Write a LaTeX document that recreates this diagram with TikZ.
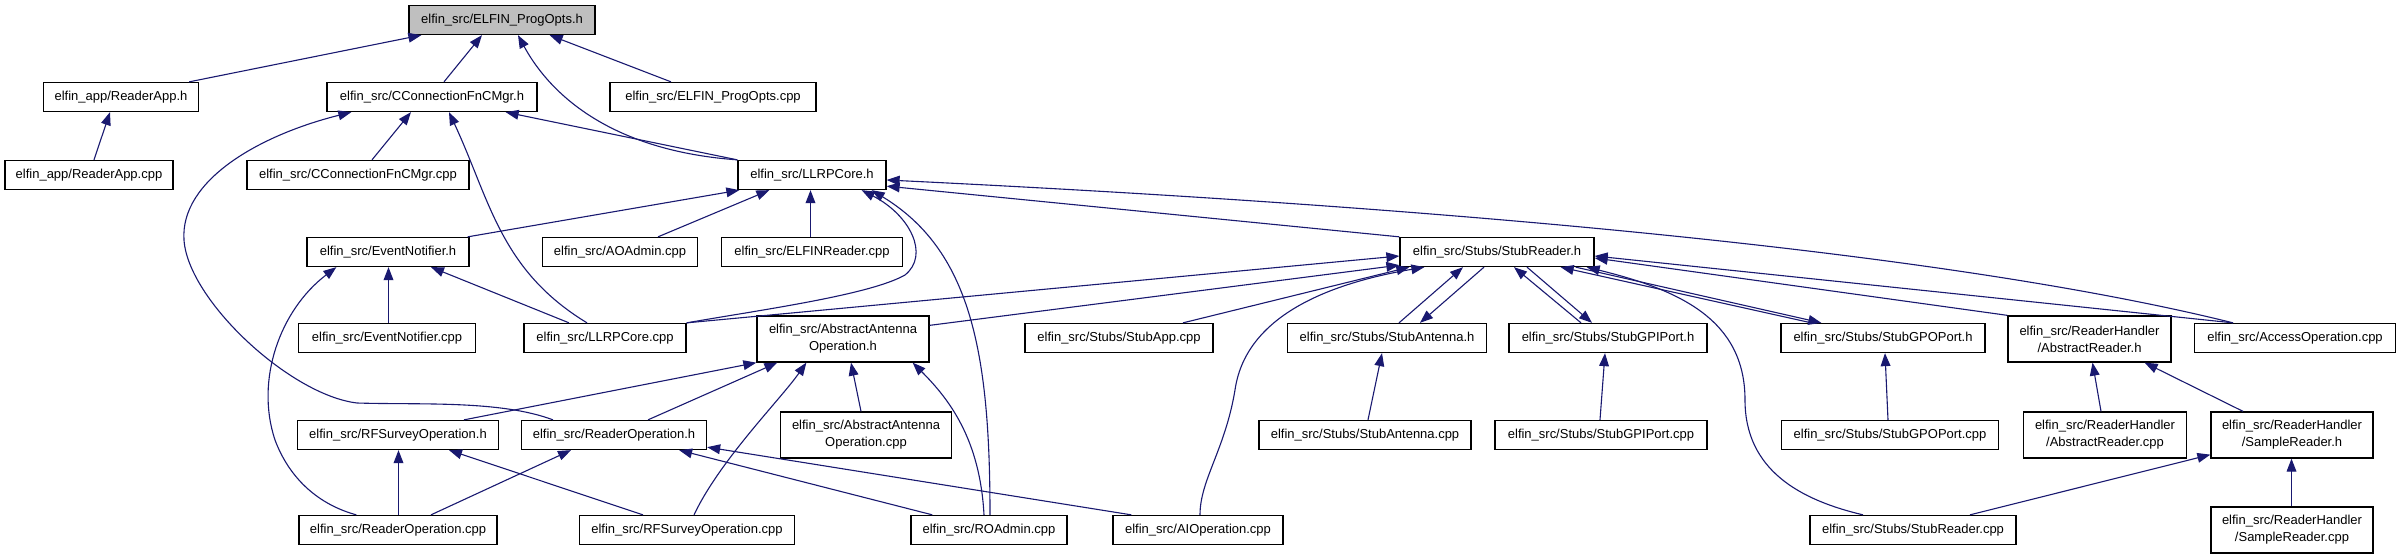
\documentclass[tikz,border=0pt]{standalone}
\usepackage{fontspec}
\setmainfont{Liberation Sans}
\usetikzlibrary{arrows.meta}
\definecolor{edgec}{HTML}{191970}
\definecolor{rootfill}{HTML}{BFBFBF}
\tikzset{
  box/.style={draw=black, line width=1pt, fill=white, inner sep=0pt, align=center,
    font=\fontsize{10}{13}\selectfont, minimum height=29*0.77pt},
  two/.style={minimum height=46*0.77pt},
  bw/.style={minimum width=#1*0.77pt},
  root/.style={fill=rootfill},
  dep/.style={draw=edgec, line width=0.85pt, {Triangle[length=10pt,width=7.5pt]}-},
}
\begin{document}
\begin{tikzpicture}[x=0.77pt,y=-0.77pt]
\useasboundingbox (0,0) rectangle (2400,560);
% nodes
\node[box,root,bw=186] (progh) at (502,20) {elfin\_src/ELFIN\_ProgOpts.h};
\node[box,bw=155] (readerapph) at (121,97) {elfin\_app/ReaderApp.h};
\node[box,bw=210] (cconh) at (432,97) {elfin\_src/CConnectionFnCMgr.h};
\node[box,bw=206] (progcpp) at (713,97) {elfin\_src/ELFIN\_ProgOpts.cpp};
\node[box,bw=168] (readerappcpp) at (89,175) {elfin\_app/ReaderApp.cpp};
\node[box,bw=222] (cconcpp) at (358,175) {elfin\_src/CConnectionFnCMgr.cpp};
\node[box,bw=148] (llrpcoreh) at (812,175) {elfin\_src/LLRPCore.h};
\node[box,bw=162] (eventh) at (388,252) {elfin\_src/EventNotifier.h};
\node[box,bw=155] (aoadmin) at (620,252) {elfin\_src/AOAdmin.cpp};
\node[box,bw=181] (elfinreader) at (812,252) {elfin\_src/ELFINReader.cpp};
\node[box,bw=194] (stubreaderh) at (1497,252) {elfin\_src/Stubs/StubReader.h};
\node[box,bw=177] (eventcpp) at (387,338) {elfin\_src/EventNotifier.cpp};
\node[box,bw=162] (llrpcorecpp) at (605,338) {elfin\_src/LLRPCore.cpp};
\node[box,two,bw=172] (absantennah) at (843,339) {elfin\_src/AbstractAntenna\\Operation.h};
\node[box,bw=188] (stubappcpp) at (1119,338) {elfin\_src/Stubs/StubApp.cpp};
\node[box,bw=199] (stubantennah) at (1387,338) {elfin\_src/Stubs/StubAntenna.h};
\node[box,bw=198] (stubgpih) at (1608,338) {elfin\_src/Stubs/StubGPIPort.h};
\node[box,bw=204] (stubgpoh) at (1883,338) {elfin\_src/Stubs/StubGPOPort.h};
\node[box,two,bw=163] (absreaderh) at (2089.5,339) {elfin\_src/ReaderHandler\\/AbstractReader.h};
\node[box,bw=201] (accesscpp) at (2295,338) {elfin\_src/AccessOperation.cpp};
\node[box,bw=201] (rfsurveyh) at (398,435) {elfin\_src/RFSurveyOperation.h};
\node[box,bw=185] (readeroph) at (614,435) {elfin\_src/ReaderOperation.h};
\node[box,two,bw=171] (absantennacpp) at (866,435) {elfin\_src/AbstractAntenna\\Operation.cpp};
\node[box,bw=212] (stubantennacpp) at (1365,435) {elfin\_src/Stubs/StubAntenna.cpp};
\node[box,bw=212] (stubgpicpp) at (1601,435) {elfin\_src/Stubs/StubGPIPort.cpp};
\node[box,bw=217] (stubgpocpp) at (1890,435) {elfin\_src/Stubs/StubGPOPort.cpp};
\node[box,two,bw=163] (absreadercpp) at (2105,435) {elfin\_src/ReaderHandler\\/AbstractReader.cpp};
\node[box,two,bw=162] (samplereaderh) at (2292,435) {elfin\_src/ReaderHandler\\/SampleReader.h};
\node[box,bw=198] (readeropcpp) at (398,530) {elfin\_src/ReaderOperation.cpp};
\node[box,bw=215] (rfsurveycpp) at (687,530) {elfin\_src/RFSurveyOperation.cpp};
\node[box,bw=156] (roadmin) at (989,530) {elfin\_src/ROAdmin.cpp};
\node[box,bw=170] (aiop) at (1198,530) {elfin\_src/AIOperation.cpp};
\node[box,bw=206] (stubreadercpp) at (1913,530) {elfin\_src/Stubs/StubReader.cpp};
\node[box,two,bw=162] (samplereadercpp) at (2292,530) {elfin\_src/ReaderHandler\\/SampleReader.cpp};
% edges
\draw[dep] ([shift={(13,0)}]progh.south west) -- ([shift={(-10,0)}]readerapph.north east);
\draw[dep] ([shift={(-20,0)}]progh.south) -- ([shift={(12,0)}]cconh.north);
\draw[dep] ([shift={(16,0)}]progh.south) .. controls (545,85) and (600,150) .. (llrpcoreh.north west);
\draw[dep] ([shift={(-46,0)}]progh.south east) -- ([shift={(-42,0)}]progcpp.north);
\draw[dep] ([shift={(-11,0)}]readerapph.south) -- ([shift={(5,0)}]readerappcpp.north);
\draw[dep] ([shift={(-21,0)}]cconh.south) -- ([shift={(14,0)}]cconcpp.north);
\draw[dep] ([shift={(-32,0)}]cconh.south east) -- (llrpcoreh.north west);
\draw[dep] ([shift={(17,0)}]cconh.south) .. controls (490,200) and (500,270) .. ([shift={(-18,0)}]llrpcorecpp.north);
\draw[dep] ([shift={(25,0)}]cconh.south west) .. controls (260,135) and (180,180) .. (184,240) .. controls (188,300) and (290,395) .. (357,403) .. controls (420,405) and (500,400) .. ([shift={(-61,0)}]readeroph.north);
\draw[dep] ([shift={(2,0)}]llrpcoreh.south west) -- ([shift={(-2,0)}]eventh.north east);
\draw[dep] ([shift={(32,0)}]llrpcoreh.south west) -- ([shift={(38,0)}]aoadmin.north);
\draw[dep] ([shift={(-1.5,0)}]llrpcoreh.south) -- ([shift={(-1.5,0)}]elfinreader.north);
\draw[dep] ([shift={(0,-4)}]llrpcoreh.south east) -- (stubreaderh.north west);
\draw[dep] ([shift={(0,5)}]llrpcoreh.east) .. controls (1300,200) and (1900,240) .. ([shift={(-62,0)}]accesscpp.north);
\draw[dep] ([shift={(-25,0)}]llrpcoreh.south east) .. controls (910,215) and (930,255) .. (905,275) .. controls (870,295) and (760,310) .. (llrpcorecpp.north east);
\draw[dep] ([shift={(-15,0)}]llrpcoreh.south east) .. controls (970,250) and (990,350) .. ([shift={(1,0)}]roadmin.north);
\draw[dep] ([shift={(0,4)}]stubreaderh.west) -- (llrpcorecpp.north east);
\draw[dep] ([shift={(0,-2)}]stubreaderh.south west) -- ([shift={(0,10)}]absantennah.north east);
\draw[dep] ([shift={(10,0)}]stubreaderh.south west) -- ([shift={(64,0)}]stubappcpp.north);
\draw[dep] ([shift={(25,0)}]stubreaderh.south west) .. controls (1320,285) and (1245,320) .. (1235,390) .. controls (1225,450) and (1200,480) .. ([shift={(2,0)}]aiop.north);
\draw[dep] ([shift={(-34,0)}]stubreaderh.south) -- ([shift={(12,0)}]stubantennah.north);
\draw[dep] ([shift={(33,0)}]stubantennah.north) -- ([shift={(-13,0)}]stubreaderh.south);
\draw[dep] ([shift={(17,0)}]stubreaderh.south) -- ([shift={(-27,0)}]stubgpih.north);
\draw[dep] ([shift={(-16,0)}]stubgpih.north) -- ([shift={(30,0)}]stubreaderh.south);
\draw[dep] ([shift={(-34,0)}]stubreaderh.south east) -- ([shift={(31,0)}]stubgpoh.north west);
\draw[dep] ([shift={(41,0)}]stubgpoh.north west) -- ([shift={(-19,0)}]stubreaderh.south east);
\draw[dep] ([shift={(-8,0)}]stubreaderh.south east) .. controls (1680,290) and (1745,320) .. (1745,400) .. controls (1745,470) and (1800,500) .. ([shift={(-50,0)}]stubreadercpp.north);
\draw[dep] ([shift={(0,6)}]stubreaderh.east) -- (absreaderh.north west);
\draw[dep] ([shift={(0,4)}]stubreaderh.east) -- ([shift={(-62,0)}]accesscpp.north);
\draw[dep] ([shift={(3,0)}]absreaderh.south) -- ([shift={(-4,0)}]absreadercpp.north);
\draw[dep] ([shift={(-27,0)}]absreaderh.south east) -- ([shift={(-49,0)}]samplereaderh.north);
\draw[dep] ([shift={(-0.5,0)}]samplereaderh.south) -- ([shift={(-0.5,0)}]samplereadercpp.north);
\draw[dep] ([shift={(0,-4)}]samplereaderh.south west) -- ([shift={(57,0)}]stubreadercpp.north);
\draw[dep] ([shift={(-5,0)}]stubantennah.south) -- ([shift={(3,0)}]stubantennacpp.north);
\draw[dep] ([shift={(-3,0)}]stubgpih.south) -- ([shift={(-1,0)}]stubgpicpp.north);
\draw[dep] ([shift={(2,0)}]stubgpoh.south) -- ([shift={(-2,0)}]stubgpocpp.north);
\draw[dep] ([shift={(0.5,0)}]eventh.south) -- ([shift={(1.5,0)}]eventcpp.north);
\draw[dep] ([shift={(43,0)}]eventh.south) -- ([shift={(-36,0)}]llrpcorecpp.north);
\draw[dep] ([shift={(30,0)}]eventh.south west) .. controls (280,310) and (255,380) .. (275,440) .. controls (290,480) and (320,505) .. ([shift={(58,0)}]readeropcpp.north west);
\draw[dep] ([shift={(0.5,0)}]rfsurveyh.south) -- ([shift={(0.5,0)}]readeropcpp.north);
\draw[dep] ([shift={(-43,0)}]readeroph.south) -- ([shift={(33,0)}]readeropcpp.north);
\draw[dep] ([shift={(51,0)}]rfsurveyh.south) -- ([shift={(-44,0)}]rfsurveycpp.north);
\draw[dep] (absantennah.south west) -- ([shift={(66,0)}]rfsurveyh.north);
\draw[dep] ([shift={(21,0)}]absantennah.south west) -- ([shift={(34,0)}]readeroph.north);
\draw[dep] ([shift={(8,0)}]absantennah.south) -- ([shift={(-5,0)}]absantennacpp.north);
\draw[dep] ([shift={(-17,0)}]absantennah.south east) .. controls (950,400) and (980,440) .. ([shift={(-5,0)}]roadmin.north);
\draw[dep] ([shift={(50,0)}]absantennah.south west) .. controls (780,400) and (720,460) .. ([shift={(7,0)}]rfsurveycpp.north);
\draw[dep] ([shift={(-28,0)}]readeroph.south east) -- ([shift={(22,0)}]roadmin.north west);
\draw[dep] ([shift={(0,-3)}]readeroph.south east) -- ([shift={(19,0)}]aiop.north west);
\end{tikzpicture}
\end{document}
